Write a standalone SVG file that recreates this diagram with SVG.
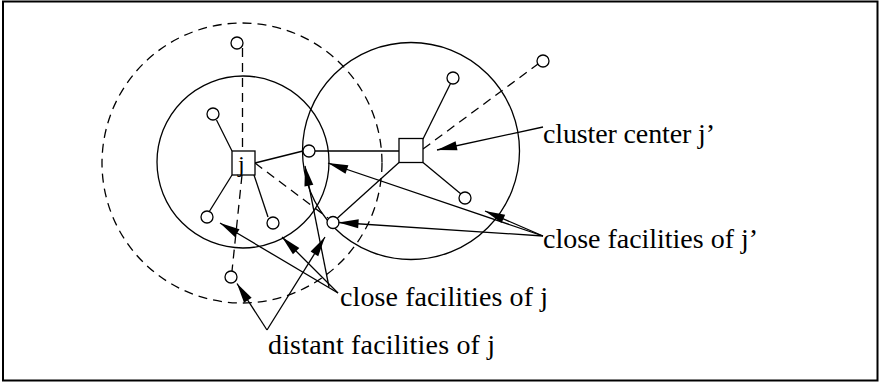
<svg xmlns="http://www.w3.org/2000/svg" width="879" height="386" viewBox="0 0 879 386">
<style>
.ln{stroke:#000;stroke-width:1.3;fill:none}
.dash{stroke:#000;stroke-width:1.3;fill:none;stroke-dasharray:9,6}
.fac{stroke:#000;stroke-width:1.3;fill:#fff}
.ctr{stroke:#000;stroke-width:1.3;fill:#fff}
.lbl{font-family:"Liberation Serif","Times New Roman",serif;font-size:28px;fill:#000}
.arr{stroke:#000;stroke-width:1.3;fill:none;marker-end:url(#ah)}
</style>
<defs>
<marker id="ah" markerUnits="userSpaceOnUse" markerWidth="21" markerHeight="9" refX="20" refY="4.5" orient="auto" overflow="visible">
<path d="M0,0 L20,4.5 L0,9 z" fill="#000"/>
</marker>
</defs>
<rect x="3" y="1.5" width="874.5" height="379" fill="#fff" stroke="#000" stroke-width="2"/>
<g id="regions">
<circle class="dash" cx="242" cy="163" r="140"/>
<circle class="ln" cx="243" cy="162" r="86"/>
<circle class="ln" cx="411" cy="151" r="108.5"/>
</g>
<g id="connectors">
<line class="dash" x1="242.5" y1="48" x2="242.5" y2="151"/>
<line class="dash" x1="242" y1="175" x2="232" y2="271"/>
<line class="dash" x1="255" y1="163" x2="328" y2="218"/>
<line class="dash" x1="423" y1="149" x2="538" y2="64"/>
<line class="ln" x1="216.5" y1="120" x2="232" y2="151"/>
<line class="ln" x1="232" y1="175" x2="209" y2="212"/>
<line class="ln" x1="254" y1="175" x2="268" y2="217"/>
<line class="ln" x1="255" y1="163" x2="303" y2="151"/>
<line class="ln" x1="315" y1="151" x2="399" y2="151"/>
<line class="ln" x1="423" y1="139" x2="450.5" y2="83.5"/>
<line class="ln" x1="423" y1="162.5" x2="461" y2="194"/>
<line class="ln" x1="399" y1="162.5" x2="337.5" y2="218"/>
</g>
<g id="node-j">
<rect class="ctr" x="232" y="151" width="23" height="24"/>
<text class="lbl" x="238" y="172" style="font-size:24px">j</text>
</g>
<g id="node-jprime">
<rect class="ctr" x="399" y="138.5" width="24" height="24"/>
</g>
<g id="facilities">
<circle class="fac" cx="237" cy="43" r="6"/>
<circle class="fac" cx="213" cy="114" r="6"/>
<circle class="fac" cx="207" cy="217" r="6"/>
<circle class="fac" cx="273" cy="223" r="6"/>
<circle class="fac" cx="231" cy="277" r="6"/>
<circle class="fac" cx="309" cy="151" r="6"/>
<circle class="fac" cx="333" cy="222.5" r="6"/>
<circle class="fac" cx="453" cy="78" r="6"/>
<circle class="fac" cx="465" cy="198" r="6"/>
<circle class="fac" cx="543" cy="61" r="6"/>
</g>
<g id="label-cluster-center">
<line class="arr" x1="543" y1="127" x2="437" y2="150"/>
<text class="lbl" x="543" y="143" textLength="172">cluster center j’</text>
</g>
<g id="label-close-jprime">
<line class="arr" x1="543" y1="236" x2="338.5" y2="222.5"/>
<line class="arr" x1="543" y1="236" x2="328" y2="163"/>
<line class="arr" x1="543" y1="236" x2="485" y2="211"/>
<text class="lbl" x="543" y="248" textLength="215">close facilities of j’</text>
</g>
<g id="label-close-j">
<line class="arr" x1="338" y1="293" x2="220" y2="223"/>
<line class="arr" x1="338" y1="293" x2="282" y2="237"/>
<line class="arr" x1="329" y1="287" x2="305" y2="166"/>
<text class="lbl" x="340" y="306" textLength="208">close facilities of j</text>
</g>
<g id="label-distant-j">
<line class="arr" x1="267" y1="330" x2="237" y2="283.5"/>
<line class="arr" x1="267" y1="330" x2="325" y2="237"/>
<text class="lbl" x="268" y="354" textLength="227">distant facilities of j</text>
</g>
</svg>
